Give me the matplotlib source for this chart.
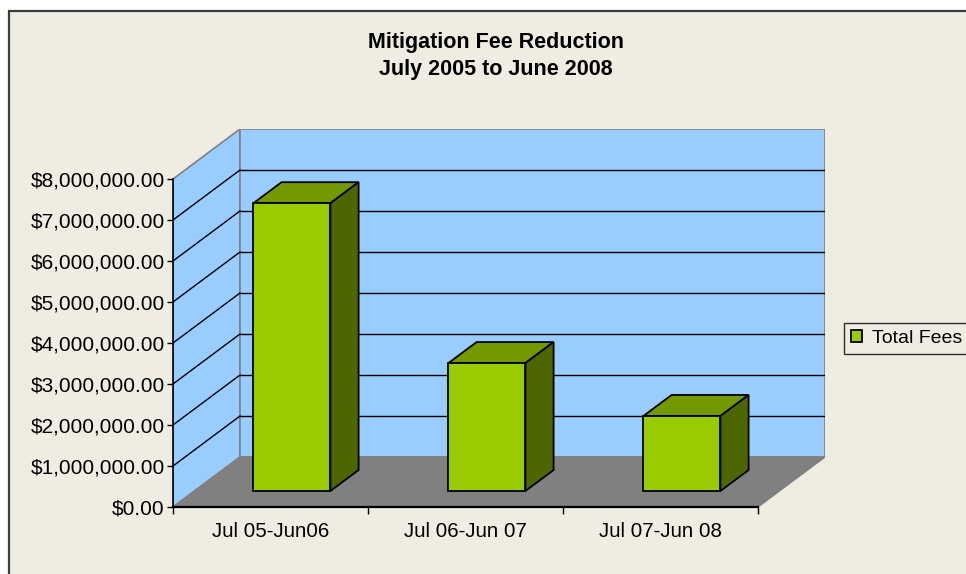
import matplotlib
matplotlib.use("Agg")
import matplotlib.pyplot as plt
from matplotlib.patches import Polygon, Rectangle
from matplotlib.ticker import FuncFormatter, FixedLocator

# ---- data ----
categories = ["Jul 05-Jun06", "Jul 06-Jun 07", "Jul 07-Jun 08"]
total_fees = [7020000, 3120000, 1830000]
series_name = "Total Fees"
y_ticks = [0, 1000000, 2000000, 3000000, 4000000, 5000000, 6000000, 7000000, 8000000]
title_lines = ["Mitigation Fee Reduction", "July 2005 to June 2008"]

# ---- style ----
W, H = 966, 574
FONT = "Liberation Sans"
wall_blue = "#99CCFF"
floor_gray = "#808080"
edge_gray = "#808080"
bar_front = "#99CC00"
bar_top = "#739900"
bar_side = "#4D6600"
beige = "#EFECE1"

plt.rcParams["font.family"] = [FONT, "DejaVu Sans"]

fig = plt.figure(figsize=(W / 100, H / 100), dpi=100, facecolor="white")

# chart area (extends beyond right / bottom edge, as in the reference)
fig.add_artist(Rectangle((8.5 / W, -0.2), 1.5, 1.2 - 11.5 / H,
                         transform=fig.transFigure, facecolor=beige,
                         edgecolor="#3c3c3c", linewidth=1.6, zorder=0))

# oblique-depth parameters (in data units)
n = len(categories)
ymax = y_ticks[-1]
Dx = 67 / 195.0            # depth offset in category units
Dy = 50 / 41.0 * 1e6       # depth offset in value units
z1, z2 = 0.32, 0.74        # bar front/back depth fractions
bw = 0.395                 # bar width

left_px, right_px, bot_px, top_px = 173, 825, 507, 129
ax = fig.add_axes([left_px / W, 1 - bot_px / H, (right_px - left_px) / W, (bot_px - top_px) / H])
ax.set_facecolor("none")
ax.set_xlim(0, n + Dx)
ax.set_ylim(0, ymax + Dy)

# walls and floor
ax.add_patch(Polygon([(0, 0), (Dx, Dy), (Dx, ymax + Dy), (0, ymax)], closed=True,
                     facecolor=wall_blue, edgecolor=edge_gray, lw=1.2, zorder=1))
ax.add_patch(Polygon([(Dx, Dy), (n + Dx, Dy), (n + Dx, ymax + Dy), (Dx, ymax + Dy)], closed=True,
                     facecolor=wall_blue, edgecolor=edge_gray, lw=1.2, zorder=1))
ax.add_patch(Polygon([(0, 0), (n, 0), (n + Dx, Dy), (Dx, Dy)], closed=True,
                     facecolor=floor_gray, edgecolor=floor_gray, lw=1, zorder=1.5))

# gridlines
for v in y_ticks[1:-1]:
    ax.plot([Dx, n + Dx], [v + Dy, v + Dy], color="black", lw=1, zorder=1.2)
    ax.plot([0, Dx], [v, v + Dy], color="black", lw=1, zorder=1.2)

# bars
xs = [i + 0.5 for i in range(n)]
front_x = [x + z1 * Dx for x in xs]
ax.bar(front_x, total_fees, width=bw, bottom=z1 * Dy, color=bar_front,
       edgecolor="black", linewidth=1.3, zorder=3, label=series_name)
for x, v in zip(xs, total_fees):
    x0, x1 = x - bw / 2, x + bw / 2
    top = [(x0 + z1 * Dx, v + z1 * Dy), (x1 + z1 * Dx, v + z1 * Dy),
           (x1 + z2 * Dx, v + z2 * Dy), (x0 + z2 * Dx, v + z2 * Dy)]
    side = [(x1 + z1 * Dx, z1 * Dy), (x1 + z2 * Dx, z2 * Dy),
            (x1 + z2 * Dx, v + z2 * Dy), (x1 + z1 * Dx, v + z1 * Dy)]
    ax.add_patch(Polygon(top, closed=True, facecolor=bar_top, edgecolor="black", lw=1.3, zorder=2.5))
    ax.add_patch(Polygon(side, closed=True, facecolor=bar_side, edgecolor="black", lw=1.3, zorder=2.5))

# axes / spines
for s in ["top", "right"]:
    ax.spines[s].set_visible(False)
ax.spines["left"].set_bounds(0, ymax)
ax.spines["bottom"].set_bounds(0, n)
ax.spines["left"].set_linewidth(1.2)
ax.spines["bottom"].set_linewidth(1.6)
ax.spines["left"].set_zorder(4)
ax.spines["bottom"].set_zorder(4)

ax.yaxis.set_major_locator(FixedLocator(y_ticks))
ax.yaxis.set_major_formatter(FuncFormatter(lambda v, p: f"${v:,.2f}"))
ax.tick_params(axis="y", direction="out", length=4, width=1, pad=2, labelsize=15)

ax.xaxis.set_major_locator(FixedLocator(list(range(n + 1))))
ax.xaxis.set_major_formatter(FuncFormatter(lambda v, p: ""))
ax.xaxis.set_minor_locator(FixedLocator(xs))
ax.set_xticklabels(categories, minor=True)
ax.tick_params(axis="x", which="major", direction="out", length=5, width=1)
ax.tick_params(axis="x", which="minor", length=0, pad=11, labelsize=14.8)

# title
fig.text(496 / W, 1 - 48 / H, title_lines[0], ha="center", va="baseline",
         fontsize=15.5, fontweight="bold")
fig.text(496 / W, 1 - 75 / H, title_lines[1], ha="center", va="baseline",
         fontsize=15.5, fontweight="bold")

# legend (box runs off the right edge as in the reference; text kept whole)
leg = ax.legend(loc="center left", bbox_to_anchor=(844 / W, 1 - 338.5 / H),
                bbox_transform=fig.transFigure, borderaxespad=0, fontsize=14,
                frameon=True, fancybox=False, handlelength=0.6, handleheight=0.6,
                handletextpad=0.5, borderpad=0.35)
leg.get_frame().set_edgecolor("black")
leg.get_frame().set_facecolor(beige)
leg.get_frame().set_linewidth(1)

fig.savefig("out.png", dpi=100, facecolor="white")
